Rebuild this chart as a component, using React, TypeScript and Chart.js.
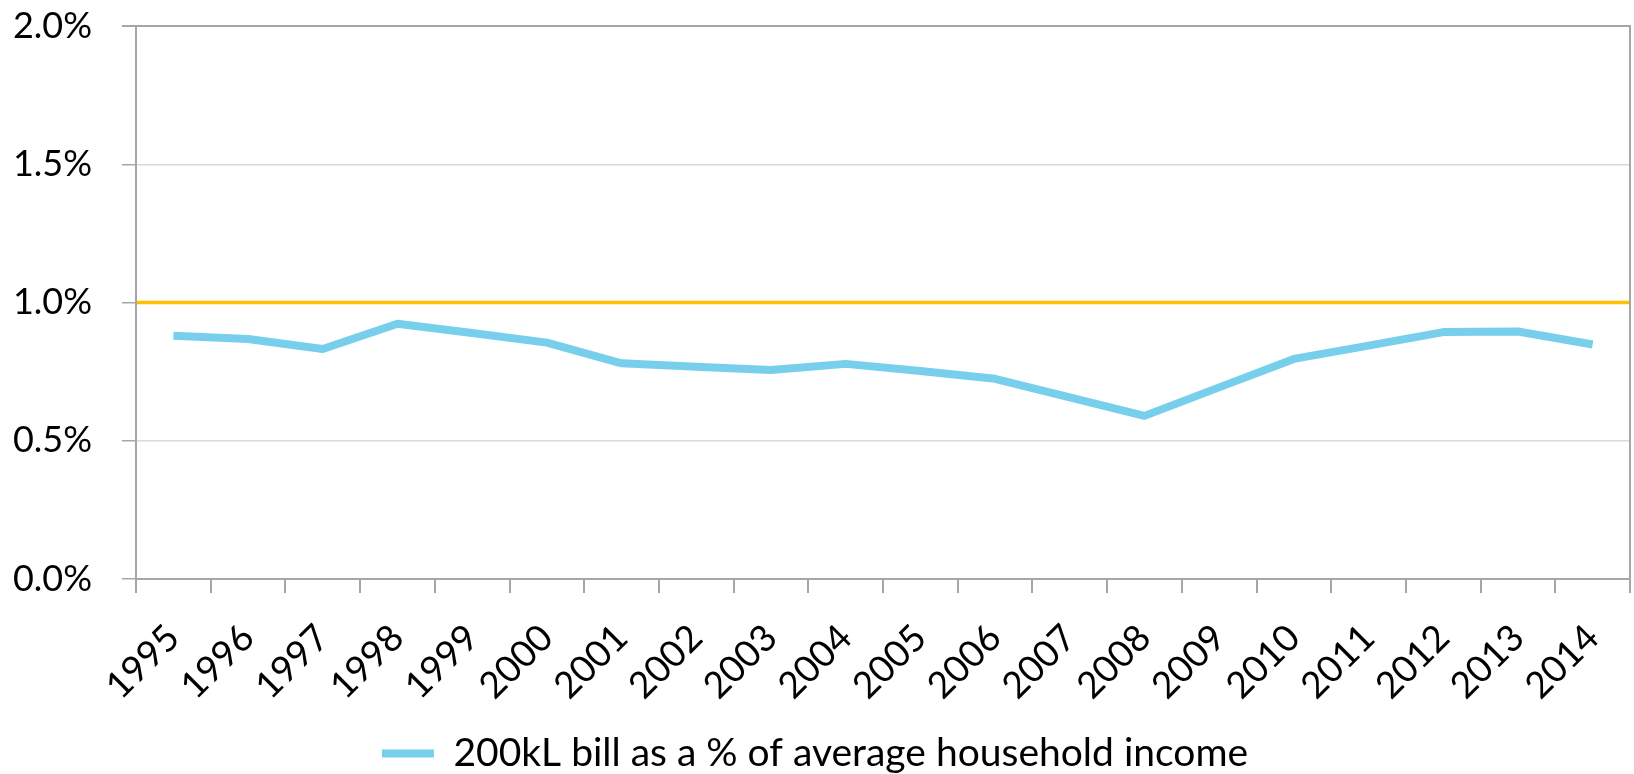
import React, { useEffect, useRef } from 'react';
import { Chart, registerables } from 'chart.js';

Chart.register(...registerables);

const years = ['1995', '1996', '1997', '1998', '1999', '2000', '2001', '2002', '2003', '2004', '2005', '2006', '2007', '2008', '2009', '2010', '2011', '2012', '2013', '2014'];
const billShare = [0.88, 0.868, 0.832, 0.923, 0.89, 0.855, 0.78, 0.768, 0.756, 0.778, 0.752, 0.724, 0.657, 0.59, 0.693, 0.796, 0.844, 0.893, 0.895, 0.848];
const thresholdValue = 1.0;
const yMin = 0;
const yMax = 2.0;
const yStep = 0.5;
const seriesLabel = '200kL bill as a % of average household income';

const FONT = 'Lato, "Open Sans", sans-serif';
const AXIS = '#a6a6a6';
const GRID = '#d9d9d9';

const thresholdPlugin = {
  id: 'thresholdLine',
  beforeDatasetsDraw(chart: any) {
    const { ctx, chartArea, scales } = chart;
    const y = scales.y.getPixelForValue(thresholdValue);
    ctx.save();
    ctx.strokeStyle = '#FFC000';
    ctx.lineWidth = 3.5;
    ctx.beginPath();
    ctx.moveTo(chartArea.left + 1, y);
    ctx.lineTo(chartArea.right, y);
    ctx.stroke();
    // right frame of plot area
    ctx.strokeStyle = AXIS;
    ctx.lineWidth = 2;
    ctx.beginPath();
    ctx.moveTo(chartArea.right, chartArea.top - 1);
    ctx.lineTo(chartArea.right, chartArea.bottom);
    ctx.stroke();
    ctx.restore();
  },
};

export default function App() {
  const ref = useRef<HTMLCanvasElement | null>(null);

  useEffect(() => {
    if (!ref.current) return;
    const chart = new Chart(ref.current, {
      type: 'line',
      data: {
        labels: years,
        datasets: [
          {
            label: seriesLabel,
            data: billShare,
            borderColor: '#77CFEB',
            backgroundColor: '#77CFEB',
            borderWidth: 8,
            pointRadius: 0,
            pointHoverRadius: 0,
            tension: 0,
            borderJoinStyle: 'round',
            borderCapStyle: 'butt',
          },
        ],
      },
      options: {
        animation: false,
        responsive: true,
        maintainAspectRatio: false,
        layout: { padding: { top: 26, right: 4, left: 0, bottom: -9 } },
        plugins: {
          tooltip: { enabled: false },
          legend: {
            position: 'bottom',
            labels: {
              usePointStyle: true,
              pointStyle: 'line',
              pointStyleWidth: 52,
              color: '#000',
              font: { family: FONT, size: 39, lineHeight: 1.0 },
              padding: 2,
            },
          },
        },
        scales: {
          x: {
            type: 'category',
            offset: true,
            grid: {
              offset: true,
              drawOnChartArea: false,
              drawTicks: true,
              tickLength: 14,
              color: AXIS,
              lineWidth: 2,
            },
            border: { color: AXIS, width: 2 },
            ticks: {
              autoSkip: false,
              minRotation: 45,
              maxRotation: 45,
              color: '#000',
              font: { family: FONT, size: 37 },
              padding: 23,
            },
            afterFit(scale: any) {
              scale.height = 153;
              scale.paddingLeft = 0;
              scale.paddingRight = 0;
            },
          },
          y: {
            min: yMin,
            max: yMax,
            ticks: {
              stepSize: yStep,
              color: '#000',
              font: { family: FONT, size: 36 },
              padding: 30,
              callback: (v: any) => Number(v).toFixed(1) + '%',
            },
            grid: {
              color: (c: any) => (c.tick && c.tick.value === yMax ? AXIS : GRID),
              lineWidth: (c: any) => (c.tick && c.tick.value === yMax ? 2 : 1.5),
              tickColor: AXIS,
              tickLength: 14,
            },
            border: { color: AXIS, width: 2 },
            afterFit(scale: any) {
              scale.width = 136;
              scale.paddingTop = 0;
              scale.paddingBottom = 0;
            },
          },
        },
      },
      plugins: [thresholdPlugin],
    });
    return () => chart.destroy();
  }, []);

  return (
    <div style={{ position: 'absolute', left: 0, top: 0, width: 1634, height: 774, background: '#fff' }}>
      <canvas ref={ref} />
    </div>
  );
}
